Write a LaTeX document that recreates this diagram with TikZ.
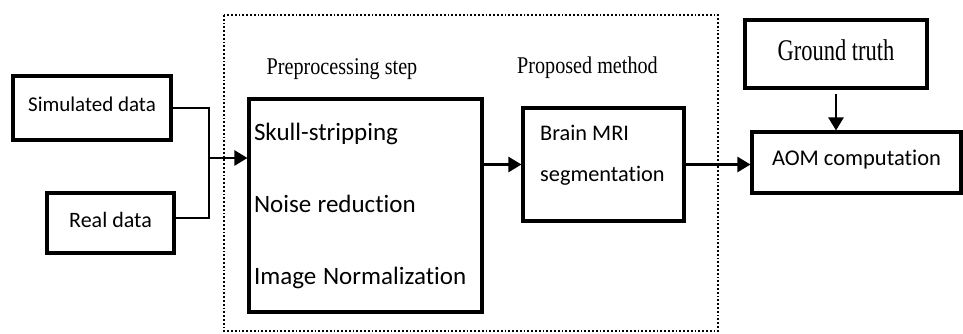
\documentclass[tikz,border=0pt]{standalone}
\usepackage{fontspec}
\setmainfont{Liberation Serif}
\newfontfamily\boxfont[Ligatures=NoCommon]{Carlito}
\usetikzlibrary{arrows.meta,calc}

\tikzset{
  blockbox/.style={draw, line width=3.1pt, rectangle, inner sep=0pt},
  boxtext/.style={font=\boxfont\fontsize{21}{26}\selectfont, inner sep=0pt},
  flow/.style={line width=2.5pt, -{Triangle[length=13pt,width=15pt]}},
  wire/.style={line width=2.5pt},
  stagelabel/.style={font=\fontsize{24}{28}\selectfont, inner sep=0pt},
}

\begin{document}
\begin{tikzpicture}[x=1pt,y=-1pt]
\useasboundingbox (0,0) rectangle (963,333);

% stage frame
\draw[line width=1.8pt, dotted] (224,15) rectangle (718,331);

% inputs
\node[blockbox, minimum width=158pt, minimum height=64pt, boxtext,
      text height=15pt, text depth=9pt] (sim) at (92,108) {Simulated data};
\node[blockbox, minimum width=127pt, minimum height=60pt, boxtext,
      font=\boxfont\fontsize{22}{26}\selectfont,
      text height=16pt, text depth=8pt] (real) at (110.5,223) {Real data};

% preprocessing
\node[stagelabel] (prelabel) at (342,69) {\scalebox{0.84}[1]{Preprocessing step}};
\node[blockbox, minimum width=233pt, minimum height=213pt, text width=223pt,
      inner xsep=5pt, align=left, font=\boxfont\fontsize{25}{72}\selectfont]
      (pre) at (365.5,205.5) {Skull-stripping\\Noise\hspace{-2pt} reduction\\Image\hspace{-1.5pt} Normalization};

% proposed method
\node[stagelabel] (methlabel) at (587.5,68) {\scalebox{0.84}[1]{Proposed method}};
\node[blockbox, minimum width=161pt, minimum height=113pt] (brain) at (603.5,164.5) {};
\node[boxtext, font=\boxfont\fontsize{22.3}{41}\selectfont, align=left, anchor=west]
      (braintext) at (540,155.5) {Brain MRI\\segmentation};

% evaluation
\node[blockbox, minimum width=182pt, minimum height=68pt,
      font=\fontsize{30}{32}\selectfont,
      text height=20pt, text depth=8pt] (gt) at (836,54) {\scalebox{0.75}[1]{Ground truth}};
\node[blockbox, minimum width=209pt, minimum height=61pt, boxtext,
      font=\boxfont\fontsize{22.5}{26}\selectfont,
      text height=16pt, text depth=10pt] (aom) at (856.5,162.5) {AOM computation};

% connectors
\coordinate (join) at (209,158);
\draw[wire] (sim.east) -| (join);
\draw[wire] ($(real.east)+(0,-5)$) -| (join);
\draw[flow] (join) -- (pre.west |- join);
\draw[flow] (pre.east |- brain.west) -- (brain.west);
\draw[flow] (brain.east) -- (aom.west |- brain.east);
\draw[flow] ($(gt.south)+(0,4)$) -- (aom.north -| gt.south);
\end{tikzpicture}
\end{document}
